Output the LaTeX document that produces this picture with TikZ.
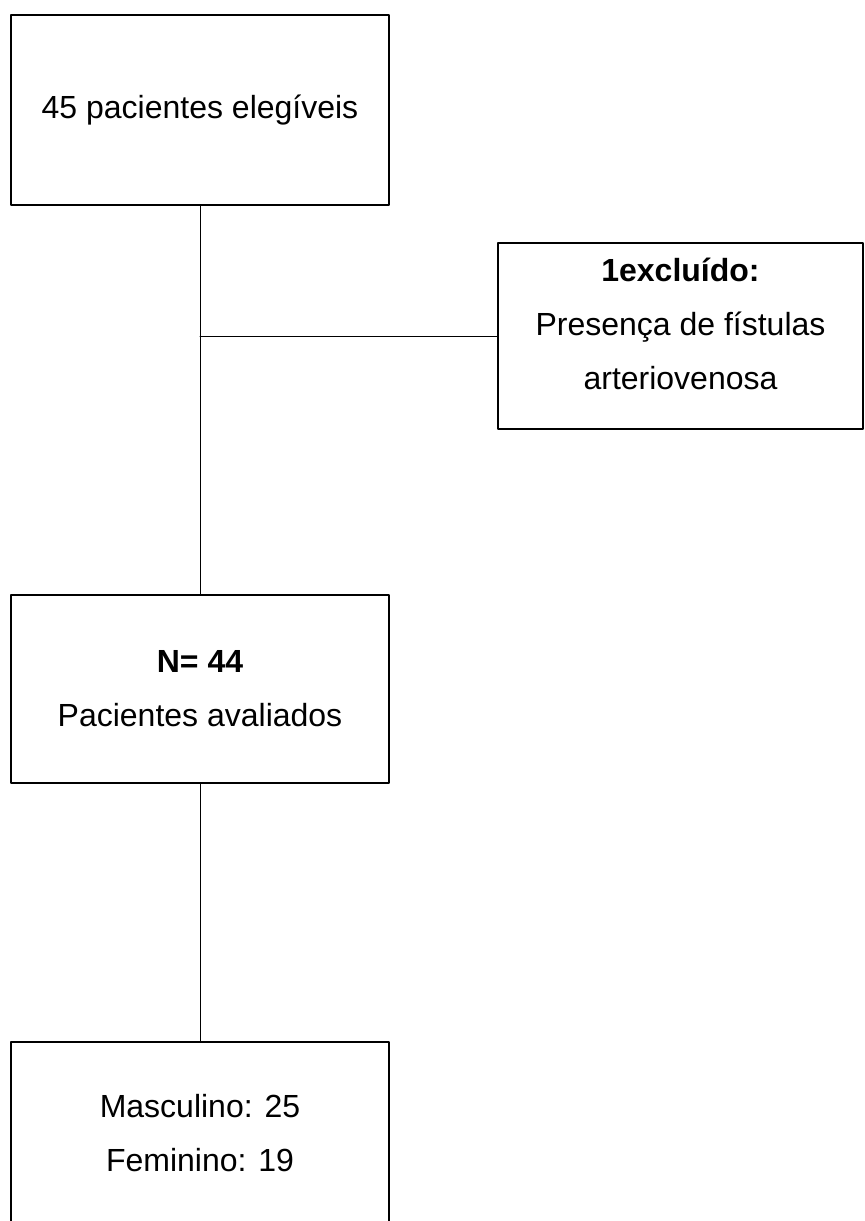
\documentclass[tikz,border=0pt]{standalone}
\usepackage{fontspec}
\setmainfont{Liberation Sans}

\begin{document}
\begin{tikzpicture}[x=0.5pt,y=-0.5pt,line cap=round,line join=round,
    box/.style={draw,line width=0.8pt,minimum width=189pt,minimum height=95pt,
        align=center,inner sep=0pt,font=\fontsize{16}{27}\selectfont},
    link/.style={line width=0.5pt}]
    %% Page frame.
    \useasboundingbox (0,0) rectangle (865,1221);

    % Boxes of the flow chart.
    \node[box] (eleg) at (200,110) {45 pacientes elegíveis};
    \node[box,minimum width=182.5pt,minimum height=93pt,text depth=12pt] (excl)
        at (680.5,336) {\textbf{1excluído:}\\Presença de fístulas\\arteriovenosa};
    \node[box,minimum height=94pt] (aval) at (200,689)
        {\textbf{N= 44}\\Pacientes avaliados};
    \node[box,minimum height=99pt,text depth=8pt] (sexo) at (200,1141)
        {Masculino: 25\\Feminino: 19};

    % Connectors.
    \coordinate (junc) at (eleg.south |- excl.west);
    \draw[link] (eleg) -- (aval);
    \draw[link] (junc) -- (excl);
    \draw[link] (aval) -- (sexo);
\end{tikzpicture}
\end{document}
